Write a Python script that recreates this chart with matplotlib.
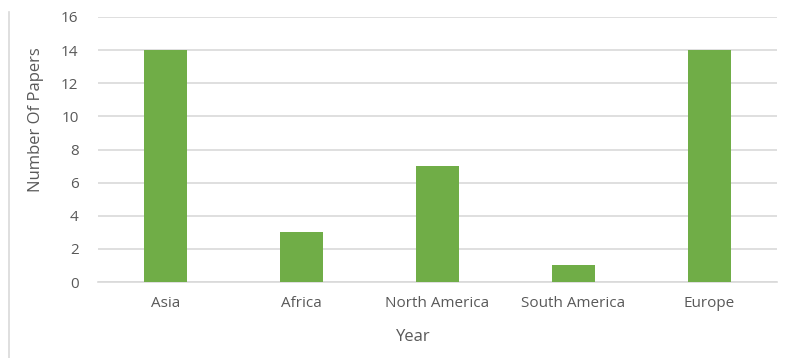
import matplotlib
matplotlib.use("Agg")
import matplotlib.pyplot as plt
from matplotlib.lines import Line2D

categories = ["Asia", "Africa", "North America", "South America", "Europe"]
values = [14, 3, 7, 1, 14]
yticks = [0, 2, 4, 6, 8, 10, 12, 14, 16]

W, H = 789, 358
fig = plt.figure(figsize=(W/100, H/100), dpi=100)
plt.rcParams['font.family'] = ['Open Sans', 'DejaVu Sans']
txt = '#595959'
grid = '#d9d9d9'

L, R, T, B = 98, 777, 17, 282
ax = fig.add_axes([L/W, 1 - B/H, (R-L)/W, (B-T)/H])
x = range(len(categories))
ax.bar(x, values, width=0.317, color='#70ad47', zorder=3)
ax.set_xlim(-0.5, len(categories) - 0.5)
ax.set_ylim(0, 16)
ax.set_yticks(yticks)
ax.set_xticks(list(x))
ax.set_xticklabels(categories)
ax.yaxis.grid(True, color=grid, linewidth=1.2, zorder=0)
for s in ['top', 'right', 'left']:
    ax.spines[s].set_visible(False)
ax.spines['bottom'].set_color(grid)
ax.spines['bottom'].set_linewidth(1.2)
ax.tick_params(axis='both', length=0, colors=txt, labelsize=11)
ax.tick_params(axis='x', pad=10)
ax.tick_params(axis='y', pad=14)

fig.text(413/W, 1 - 337/H, "Year", ha='center', va='center', color=txt, fontsize=12)
fig.text(36/W, 1 - 120/H, "Number Of Papers", ha='center', va='center', rotation=90, color=txt, fontsize=12)

fig.add_artist(Line2D([9/W, 9/W], [0, 1 - 12/H], color=grid, linewidth=1.2, transform=fig.transFigure))

fig.savefig("out.png", dpi=100)
